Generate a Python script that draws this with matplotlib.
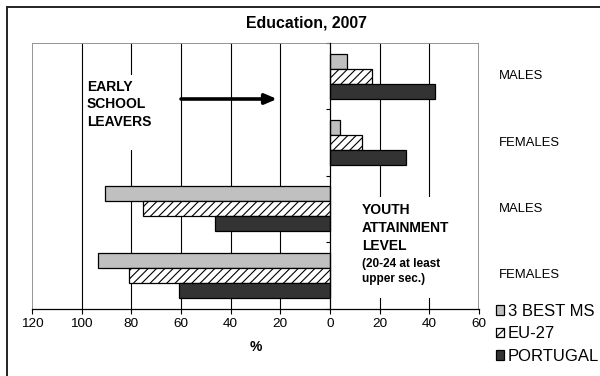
import matplotlib
matplotlib.use("Agg")
import matplotlib.pyplot as plt
from matplotlib.patches import Rectangle, Patch
from matplotlib.transforms import blended_transform_factory

plt.rcParams['font.family'] = ['Liberation Sans', 'DejaVu Sans']
plt.rcParams['hatch.linewidth'] = 0.8

# ---- data ----
categories = ["MALES", "FEMALES", "MALES", "FEMALES"]
series_names = ["3 BEST MS", "EU-27", "PORTUGAL"]
# early school leavers (males, females) -> drawn to the right
esl_best3 = [7.0, 4.0]
esl_eu27 = [16.9, 12.7]
esl_portugal = [42.3, 30.5]
# youth attainment level (males, females) -> drawn to the left
yal_best3 = [90.5, 93.3]
yal_eu27 = [75.5, 80.8]
yal_portugal = [46.2, 60.8]
xtick_values = [-120, -100, -80, -60, -40, -20, 0, 20, 40, 60]
xtick_labels = ["120", "100", "80", "60", "40", "20", "0", "20", "40", "60"]

# ---- styling ----
W, H = 600, 376
def fx(px): return px / W
def fy(py): return 1 - py / H

fig = plt.figure(figsize=(W / 100, H / 100), dpi=100)
fig.patch.set_facecolor('white')

# outer chart frame (left & top visible)
fig.add_artist(Rectangle((fx(7), -0.2), 2, fy(7) + 0.2, transform=fig.transFigure,
                         fill=False, ec='#222222', lw=1.4))

ax = fig.add_axes([fx(32), fy(308.5), 447 / W, 265.5 / H])
ax.set_xlim(-120, 60)
ax.set_ylim(3.5, -0.5)

series_vals = [
    esl_best3 + [-v for v in yal_best3],
    esl_eu27 + [-v for v in yal_eu27],
    esl_portugal + [-v for v in yal_portugal],
]
colors = ['#c0c0c0', 'white', '#333333']
hatches = [None, '////', None]
h = 0.226
for k, (vals, c, ht) in enumerate(zip(series_vals, colors, hatches)):
    ys = [i + (k - 1) * h for i in range(len(categories))]
    ax.barh(ys, vals, height=h, color=c, edgecolor='black', linewidth=0.9,
            hatch=ht, zorder=3)

# gridlines (inner)
for xv in xtick_values[1:-1]:
    if xv != 0:
        ax.axvline(xv, color='black', lw=0.8, zorder=0.5)
# grey plot frame
ax.axvline(-120, color='#8c8c8c', lw=1.3, zorder=4)
ax.axvline(60, color='#8c8c8c', lw=1.3, zorder=4)
ax.axhline(-0.5, color='#8c8c8c', lw=1.3, zorder=4)

for s in ['top', 'right']:
    ax.spines[s].set_visible(False)
ax.spines['left'].set_position(('data', 0))
ax.spines['left'].set_color('black')
ax.spines['left'].set_linewidth(0.9)
ax.spines['left'].set_zorder(5)
ax.spines['bottom'].set_color('black')
ax.spines['bottom'].set_linewidth(0.9)
ax.spines['bottom'].set_zorder(5)

ax.set_xticks(xtick_values)
ax.set_xticklabels(xtick_labels, fontsize=9.7)
ax.tick_params(axis='x', direction='out', length=3.5, width=0.8, pad=3.5, colors='black')
ax.set_yticks([-0.5, 0.5, 1.5, 2.5, 3.5])
ax.set_yticklabels([])
ax.tick_params(axis='y', direction='out', length=3, width=0.8)

# category labels on the right
tr = blended_transform_factory(ax.transAxes, ax.transData)
for i, lab in enumerate(categories):
    ax.text((499 - 32) / 447, i, lab, transform=tr, ha='left', va='center', fontsize=9.4)

# white text boxes
def axf(px, py):
    return (px - 32) / 447, 1 - (py - 43) / 265.5

x0, y1 = axf(84, 75); x1, y0 = axf(178, 150)
ax.add_patch(Rectangle((x0, y0), x1 - x0, y1 - y0, transform=ax.transAxes,
                       fc='white', ec='none', zorder=1))
tx, ty = axf(87, 104.5)
ax.text(tx, ty, "EARLY\nSCHOOL\nLEAVERS", transform=ax.transAxes, ha='left', va='center',
        fontsize=10, fontweight='bold', linespacing=1.33, zorder=6)

x0, y1 = axf(335, 197); x1, y0 = axf(470, 298)
ax.add_patch(Rectangle((x0, y0), x1 - x0, y1 - y0, transform=ax.transAxes,
                       fc='white', ec='none', zorder=1))
tx, ty = axf(362, 228)
ax.text(tx, ty, "YOUTH\nATTAINMENT\nLEVEL", transform=ax.transAxes, ha='left', va='center',
        fontsize=10, fontweight='bold', linespacing=1.33, zorder=6)
tx, ty = axf(362, 271.5)
ax.text(tx, ty, "(20-24 at least\nupper sec.)", transform=ax.transAxes, ha='left', va='center',
        fontsize=8.5, fontweight='bold', linespacing=1.3, zorder=6)

# arrow
a0 = axf(181, 99); a1 = axf(277, 99)
ax.annotate("", xy=a1, xytext=a0, xycoords='axes fraction', textcoords='axes fraction',
            arrowprops=dict(arrowstyle='-|>,head_length=0.7,head_width=0.3', lw=2.6,
                            color='black', shrinkA=0, shrinkB=0), zorder=6)

# title and axis title
fig.text(fx(306), fy(23), "Education, 2007", ha='center', va='center', fontsize=11.4,
         fontweight='bold')
fig.text(fx(256), fy(347), "%", ha='center', va='center', fontsize=10, fontweight='bold')

# legend
handles = [Patch(facecolor=c, edgecolor='black', hatch=ht, linewidth=0.9)
           for c, ht in zip(colors, hatches)]
fig.legend(handles, series_names, loc='upper left', bbox_to_anchor=(fx(496), fy(304)),
           frameon=False, fontsize=12, handlelength=0.5, handleheight=0.5,
           handletextpad=0.2, labelspacing=0.45, borderpad=0, borderaxespad=0)

fig.savefig("out.png", dpi=100, facecolor='white')
